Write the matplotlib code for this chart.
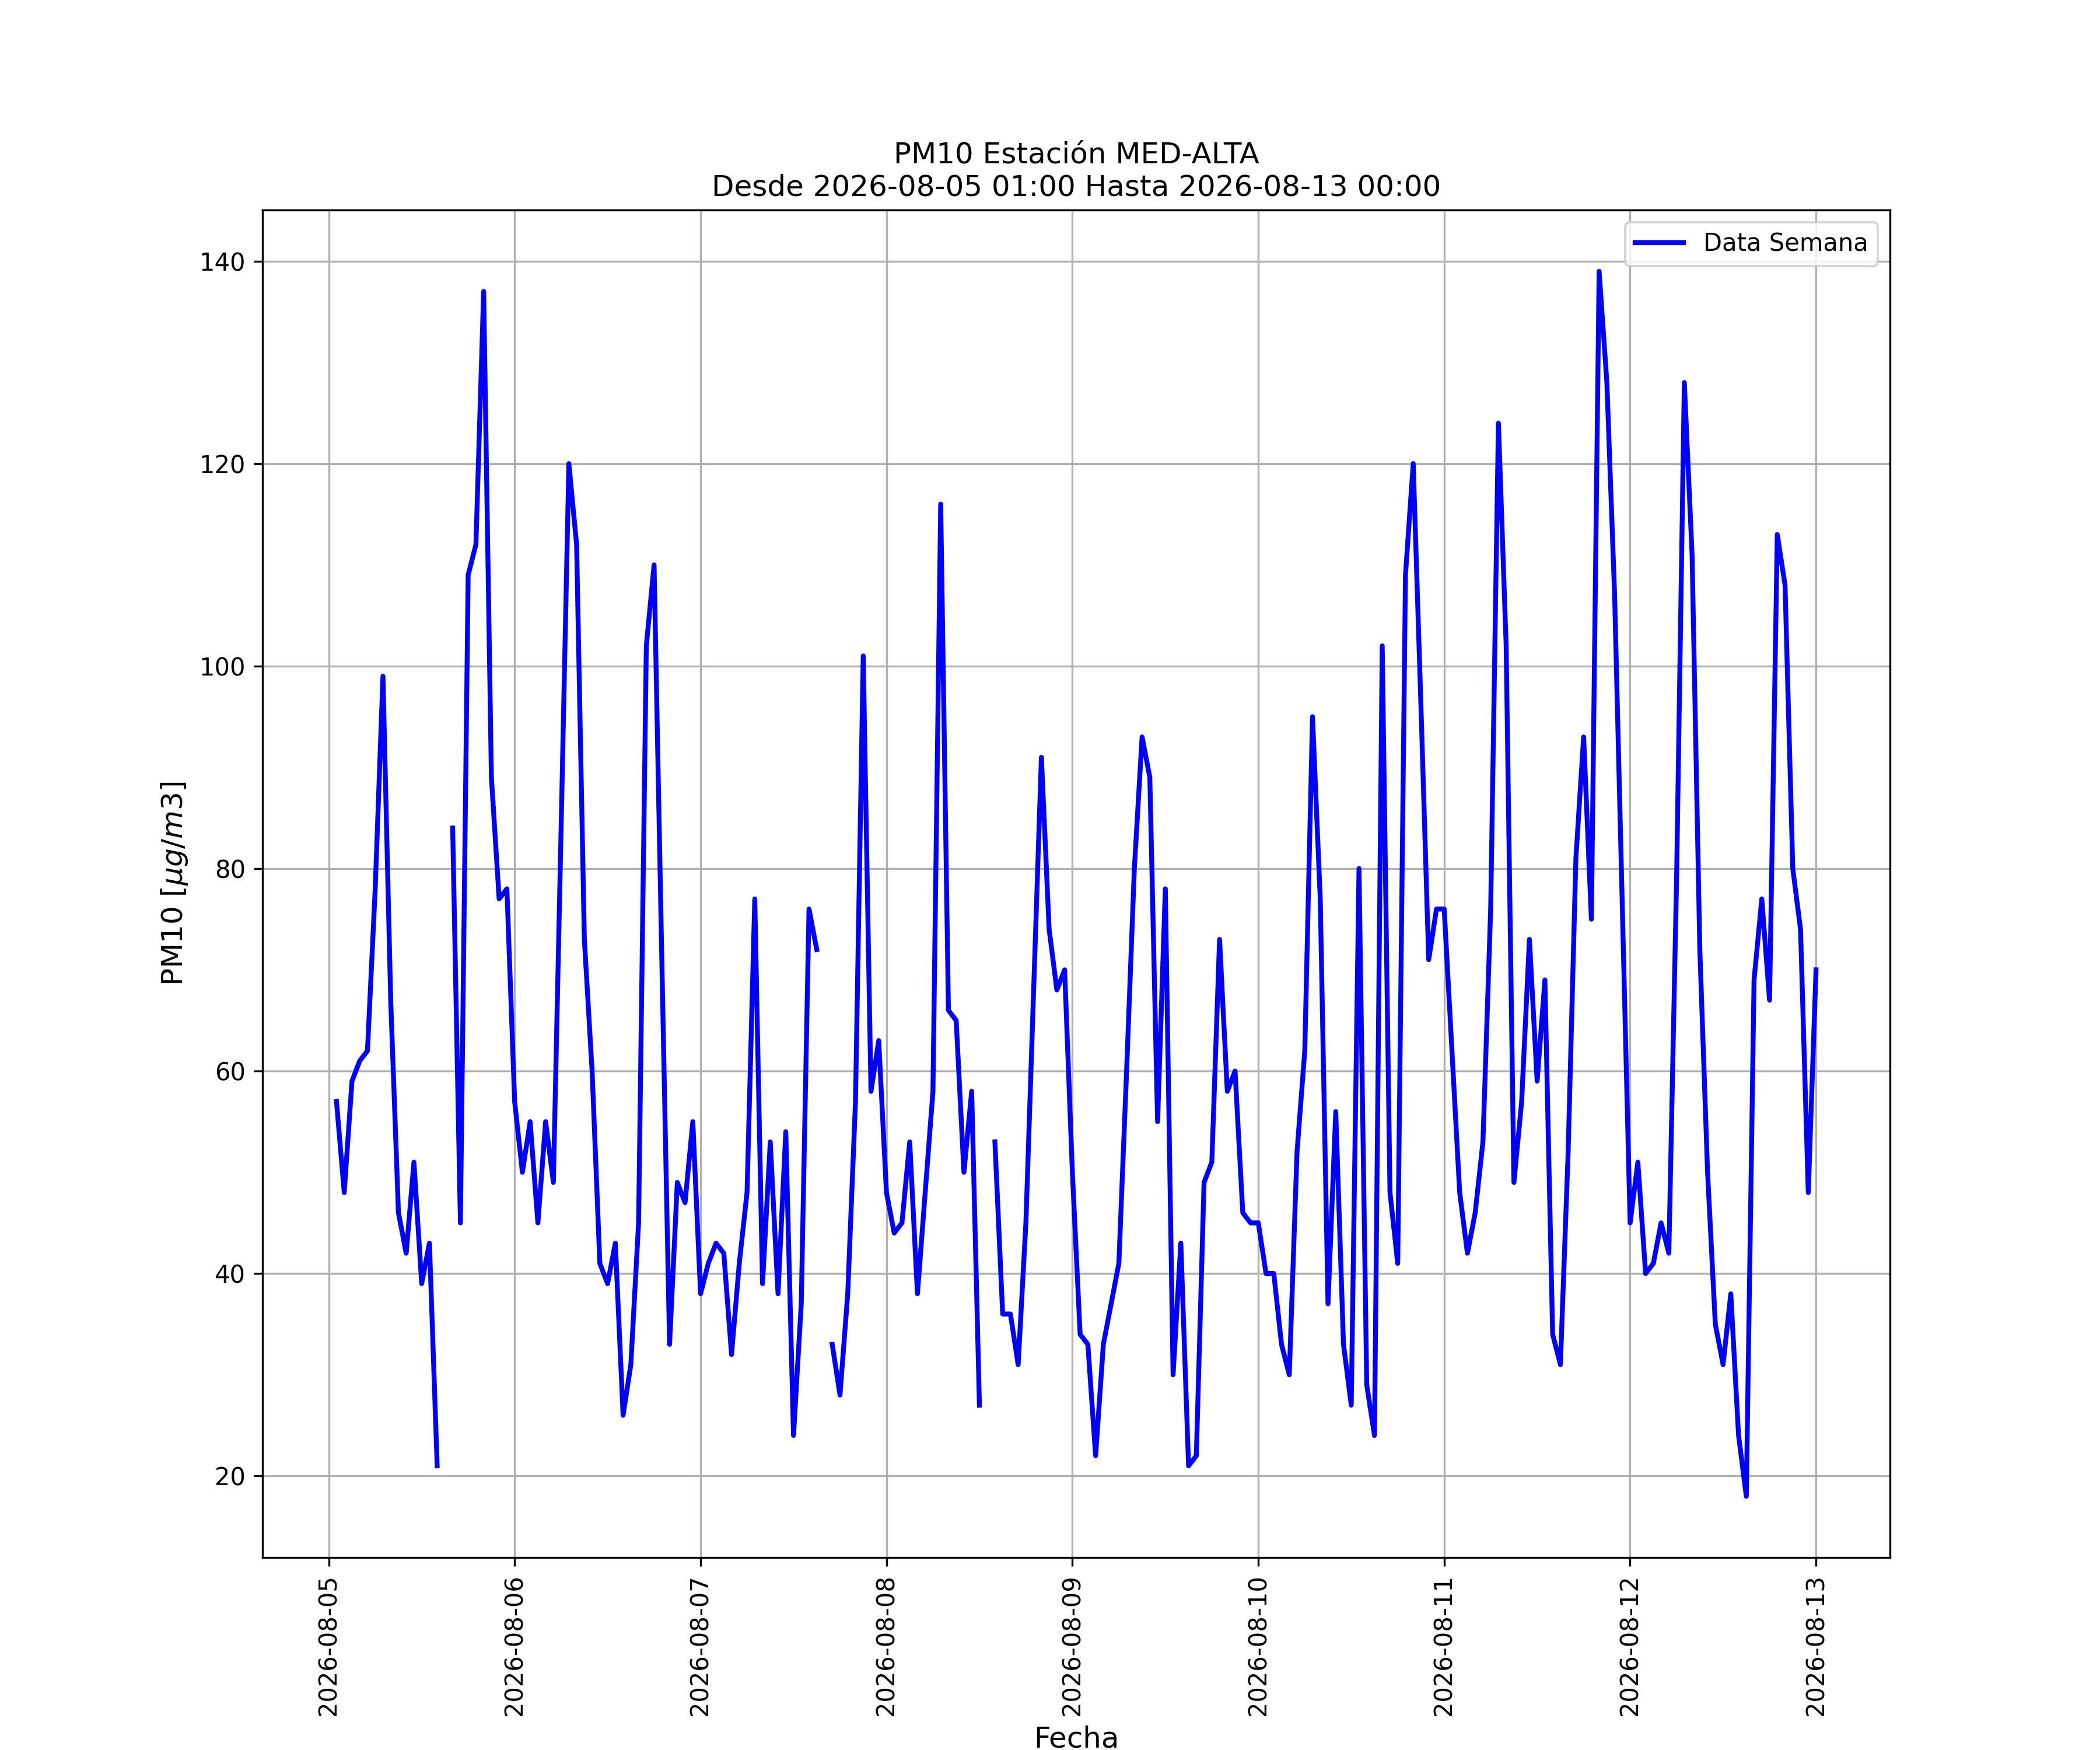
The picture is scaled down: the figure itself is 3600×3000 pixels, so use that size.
import numpy as np
import pandas as pd
import matplotlib
matplotlib.use("Agg")
import matplotlib.pyplot as plt
import matplotlib.dates as mdates

nan = np.nan

# Hourly PM10 values [µg/m3]
day_05 = [57, 48, 59, 61, 62, 78, 99, 67, 46, 42, 51, 39, 43, 21, nan, 84, 45, 109, 112, 137, 89, 77, 78]  # 01:00..23:00
day_06 = [57, 50, 55, 45, 55, 49, 84, 120, 112, 73, 60, 41, 39, 43, 26, 31, 45, 102, 110, 71, 33, 49, 47, 55]
day_07 = [38, 41, 43, 42, 32, 41, 48, 77, 39, 53, 38, 54, 24, 37, 76, 72, nan, 33, 28, 38, 57, 101, 58, 63]
day_08 = [48, 44, 45, 53, 38, 48, 58, 116, 66, 65, 50, 58, 27, nan, 53, 36, 36, 31, 45, 68, 91, 74, 68, 70]
day_09 = [50, 34, 33, 22, 33, 37, 41, 60, 80, 93, 89, 55, 78, 30, 43, 21, 22, 49, 51, 73, 58, 60, 46, 45]
day_10 = [45, 40, 40, 33, 30, 52, 62, 95, 77, 37, 56, 33, 27, 80, 29, 24, 102, 48, 41, 109, 120, 96, 71, 76]
day_11 = [76, 62, 48, 42, 46, 53, 76, 124, 102, 49, 57, 73, 59, 69, 34, 31, 52, 81, 93, 75, 139, 128, 107, 76]
day_12 = [45, 51, 40, 41, 45, 42, 79, 128, 111, 72, 50, 35, 31, 38, 24, 18, 69, 77, 67, 113, 108, 80, 74, 48]
day_13 = [70]  # 00:00

values = day_05 + day_06 + day_07 + day_08 + day_09 + day_10 + day_11 + day_12 + day_13
start = "2026-08-05 01:00"
end = "2026-08-13 00:00"
times = pd.date_range(start, end, freq="h")

title = "PM10 Estación MED-ALTA\nDesde 2026-08-05 01:00 Hasta 2026-08-13 00:00"
xlabel = "Fecha"
ylabel = r"PM10 [$\mu g/m3$]"
legend_label = "Data Semana"

fig, ax = plt.subplots(figsize=(12, 10), dpi=300)
ax.plot(times, values, color="blue", linewidth=2, label=legend_label)
ax.set_title(title, fontsize=12)
ax.set_xlabel(xlabel, fontsize=12)
ax.set_ylabel(ylabel, fontsize=12)
ax.xaxis.set_major_locator(mdates.DayLocator())
ax.xaxis.set_major_formatter(mdates.DateFormatter("%Y-%m-%d"))
plt.setp(ax.get_xticklabels(), rotation=90)
ax.grid(True)
ax.legend(loc="upper right")
fig.savefig("out.png", dpi=300)
